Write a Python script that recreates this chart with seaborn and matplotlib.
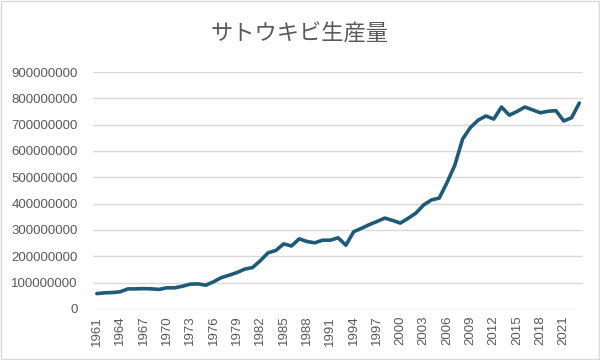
import numpy as np
import pandas as pd
import seaborn as sns
import matplotlib.pyplot as plt

years = list(range(1961, 2024))
production = [
    58e6, 61e6, 62e6, 65e6, 76e6, 76e6, 77e6, 76e6, 74e6, 80e6,
    80e6, 86e6, 94e6, 95e6, 90e6, 103e6, 119e6, 128e6, 138e6, 151e6,
    157e6, 183e6, 213e6, 222e6, 247e6, 239e6, 266e6, 256e6, 251e6, 261e6,
    261e6, 270e6, 242e6, 293e6, 306e6, 320e6, 332e6, 345e6, 336e6, 326e6,
    344e6, 364e6, 395e6, 414e6, 421e6, 480e6, 546e6, 645e6, 689e6, 717e6,
    733e6, 721e6, 767e6, 736e6, 750e6, 767e6, 756e6, 745e6, 751e6, 753e6,
    714e6, 726e6, 782e6,
]
tick_years = list(range(1961, 2022, 3))
title = "サトウキビ生産量"

df = pd.DataFrame({"year": years, "production": production})

sns.set_style("white")
plt.rcParams["font.family"] = ["Liberation Sans", "Noto Sans CJK JP", "DejaVu Sans"]

fig = plt.figure(figsize=(6, 3.6), dpi=100)
ax = fig.add_axes([0.155, 0.142, 0.817, 0.658])

sns.lineplot(data=df, x="year", y="production", ax=ax,
             color="#1d5b79", linewidth=2.6, solid_capstyle="round")

ax.set_xlim(1960.5, 2023.5)
ax.set_ylim(0, 900e6)
ax.set_yticks(np.arange(0, 900e6 + 1, 100e6))
ax.set_yticklabels([f"{int(v)}" for v in np.arange(0, 900e6 + 1, 100e6)])
ax.set_xticks(tick_years)
ax.set_xticklabels([str(y) for y in tick_years], rotation=90)
ax.yaxis.grid(True, color="#d9d9d9", linewidth=1)
ax.set_axisbelow(True)
for s in ax.spines.values():
    s.set_visible(False)
ax.tick_params(axis="both", length=0, labelsize=9.5, labelcolor="#595959")
ax.tick_params(axis="y", pad=11)
ax.tick_params(axis="x", pad=5)
ax.set_xlabel("")
ax.set_ylabel("")

fig.text(0.5, 0.905, title, ha="center", va="center", fontsize=16,
         color="#595959", family=["Noto Sans CJK JP", "DejaVu Sans"])

fig.patches.append(plt.Rectangle((0.002, 0.003), 0.996, 0.994, transform=fig.transFigure,
                                 fill=False, edgecolor="#d9d9d9", linewidth=1))

fig.savefig("out.png", dpi=100)
